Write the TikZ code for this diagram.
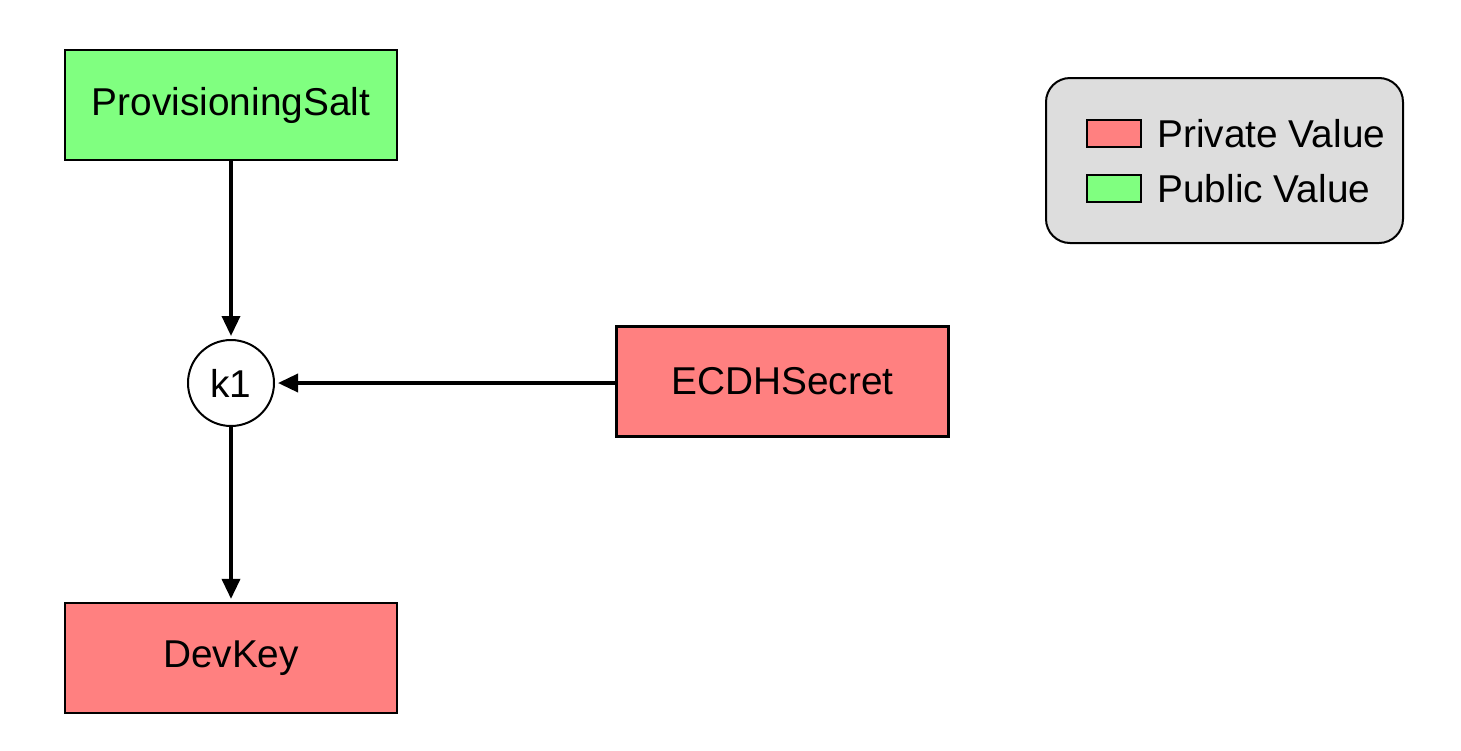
\documentclass[tikz,border=0pt]{standalone}
\usepackage{fontspec}
\setmainfont{Liberation Sans}
\usetikzlibrary{arrows.meta}
\definecolor{privred}{HTML}{FF8080}
\definecolor{pubgreen}{HTML}{80FF80}
\definecolor{leggray}{HTML}{DDDDDD}
\tikzset{
  valbox/.style={draw=black, line width=1.1pt, inner sep=0pt, minimum width=166pt, minimum height=55pt, font=\fontsize{19.4}{23}\selectfont},
  privbox/.style={valbox, fill=privred},
  pubbox/.style={valbox, fill=pubgreen},
  kdf/.style={circle, draw=black, line width=1pt, fill=white, inner sep=0pt, minimum size=43pt, font=\fontsize{19.4}{23}\selectfont},
  flow/.style={line width=1.8pt, -{Triangle[length=10pt, width=9pt]}, shorten >=1.5pt},
  swatch/.style={draw=black, line width=0.7pt, inner sep=0pt, minimum width=27pt, minimum height=13.5pt},
  legtext/.style={inner sep=0pt, anchor=west, font=\fontsize{19.4}{23}\selectfont},
}
\begin{document}
\begin{tikzpicture}[x=0.5pt, y=-0.5pt]
\useasboundingbox (0,0) rectangle (1461,750);
\node[pubbox] (salt) at (231,105) {ProvisioningSalt};
\node[kdf] (k1) at (231,383) {k1};
\node[privbox] (ecdh) at (782.5,381.5) {ECDHSecret};
\node[privbox] (dev) at (231,658) {DevKey};
\draw[flow] (salt) -- (k1);
\draw[flow] (ecdh.west |- k1) -- (k1);
\draw[flow] (k1) -- (dev);
\node[draw=black, line width=1pt, fill=leggray, rounded corners=12pt, minimum width=178.5pt, minimum height=82.5pt, inner sep=0pt] (legend) at (1224.5,160.5) {};
\node[swatch, fill=privred] (sw1) at (1114,133.5) {};
\node[swatch, fill=pubgreen] (sw2) at (1114,188.5) {};
\node[legtext] (t1) at (1157,133.5) {Private Value};
\node[legtext] (t2) at (1157,188.5) {Public Value};
\end{tikzpicture}
\end{document}
